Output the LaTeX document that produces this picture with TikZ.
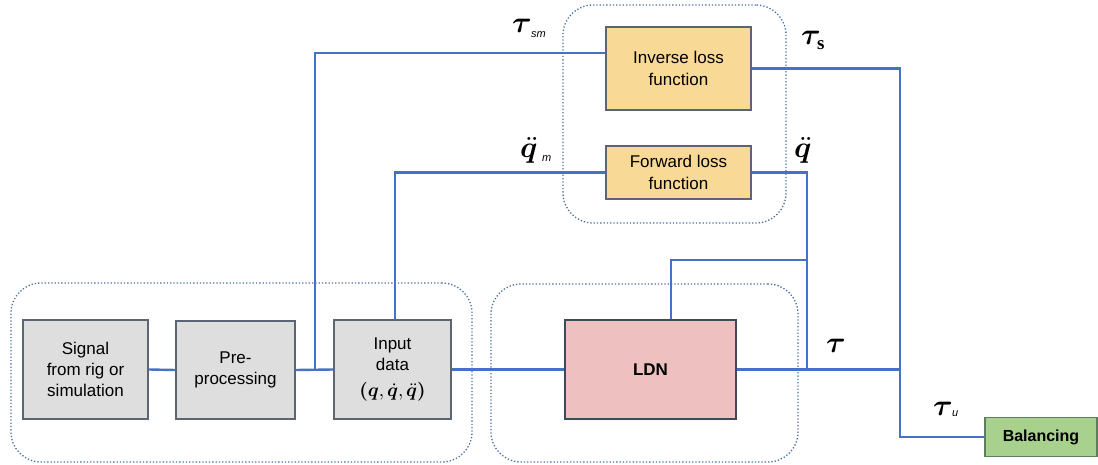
\documentclass[tikz,border=0pt]{standalone}
\DeclareFontShape{OML}{cmm}{m}{it}{<->cmmi10}{}
\DeclareFontShape{OML}{cmm}{b}{it}{<->cmmib10}{}
\DeclareFontShape{OT1}{cmr}{bx}{n}{<->cmbx10}{}
\DeclareFontShape{OT1}{cmr}{m}{n}{<->cmr10}{}
\usepackage{bm}
\usepackage{fontspec}
\setmainfont{Liberation Sans}
\newfontfamily\sserif{Liberation Serif}
\definecolor{lineblue}{HTML}{4472C4}
\definecolor{dotblue}{HTML}{4A6FA5}
\definecolor{greyfill}{HTML}{DEDEDE}
\definecolor{greyline}{HTML}{5B6573}
\definecolor{yellowfill}{HTML}{F8D996}
\definecolor{pinkfill}{HTML}{EEC0C0}
\definecolor{pinkline}{HTML}{3E4A5C}
\definecolor{greenfill}{HTML}{A9D18E}
\definecolor{greenline}{HTML}{5E7D5E}
\tikzset{
  blk/.style={draw=greyline, line width=1.3pt, inner sep=0pt, align=center,
    font=\fontsize{17}{21}\selectfont},
  greyblk/.style={blk, fill=greyfill},
  yellowblk/.style={blk, fill=yellowfill, font=\fontsize{17}{22}\selectfont},
  ldnblk/.style={blk, fill=pinkfill, draw=pinkline, line width=2.5pt, font=\fontsize{17}{22}\selectfont\bfseries},
  balblk/.style={blk, fill=greenfill, draw=greenline, font=\fontsize{16}{20}\selectfont\bfseries},
  grp/.style={draw=dotblue, dotted, line width=1.3pt, rounded corners=30pt, inner sep=0pt},
  wire/.style={draw=lineblue, line width=2.4pt},
  mlab/.style={inner sep=0pt, font=\fontsize{30}{32}\selectfont},
  slab/.style={inner sep=0pt, font=\fontsize{11}{12}\selectfont\itshape}
}
\begin{document}
\begin{tikzpicture}[x=1pt,y=-1pt]
\useasboundingbox (0,0) rectangle (1098,465);
% groups
\node[grp, minimum width=461pt, minimum height=179pt] (grpL) at (241.5,372.5) {};
\node[grp, minimum width=307pt, minimum height=178pt] (grpR) at (644.5,373) {};
\node[grp, minimum width=223pt, minimum height=218pt] (grpT) at (674.5,114) {};
% blocks
\node[greyblk, minimum width=125pt, minimum height=99pt] (sig) at (85.5,369.5) {Signal\\from rig or\\simulation};
\node[greyblk, minimum width=119pt, minimum height=98pt] (pre) at (235.5,370) {Pre-\\processing};
\node[greyblk, minimum width=117pt, minimum height=99pt] (inp) at (392.5,369.5) {Input\\data\\[5pt]{\fontsize{19}{22}\selectfont$\boldsymbol{(}\bm{q},\dot{\bm{q}},\ddot{\bm{q}}\boldsymbol{)}$}};
\node[ldnblk, minimum width=171pt, minimum height=99pt] (ldn) at (650.5,369.5) {LDN};
\node[yellowblk, minimum width=145pt, minimum height=83pt] (inv) at (678.5,68.5) {Inverse loss\\function};
\node[yellowblk, minimum width=145pt, minimum height=53pt] (fwd) at (678.5,172.5) {Forward loss\\function};
\node[balblk, minimum width=112pt, minimum height=39pt] (bal) at (1041,437) {Balancing};
% junctions
\coordinate (j1) at (315,369.5);
\coordinate (j2) at (807,369.5);
\coordinate (j3) at (900,369.5);
\coordinate (t1) at (807,260);
\coordinate (ju) at (900,437);
% wires
\draw[wire] (sig.east) -- (pre.west);
\draw[wire] (pre.east) -- (inp.west);
\draw[wire] (j1) |- ([yshift=15.5pt]inv.west);
\draw[wire] ([xshift=2.5pt]inp.north) |- (fwd.west);
\draw[wire] (inp.east) -- (ldn.west);
\draw[wire] (ldn.east) -- (j2) -- (j3);
\draw[wire] (fwd.east) -| (j2);
\draw[wire] (t1) -| ([xshift=20.5pt]ldn.north);
\draw[wire] (inv.east) -| (ju) -- (bal.west);
% labels
\node[mlab, anchor=base west] (lsm) at (512,33) {$\bm{\tau}$};
\node[slab, anchor=base west] (lsmsub) at (531,38) {sm};
\node[mlab, anchor=base west] (ls) at (801,45) {$\bm{\tau}$};
\node[inner sep=0pt, anchor=base west, font=\fontsize{19}{20}\selectfont\sserif\bfseries] (lssub) at (817,50) {s};
\node[mlab, anchor=base west] (lqm) at (520,158) {$\ddot{\bm{q}}$};
\node[slab, anchor=base west] (lqmsub) at (542,162) {m};
\node[mlab, anchor=base west] (lq) at (794,158) {$\ddot{\bm{q}}$};
\node[mlab, anchor=base west] (lt) at (826,352) {$\bm{\tau}$};
\node[mlab, anchor=base west] (lu) at (933,415) {$\bm{\tau}$};
\node[slab, anchor=base west] (lusub) at (952,416) {u};
\end{tikzpicture}
\end{document}
